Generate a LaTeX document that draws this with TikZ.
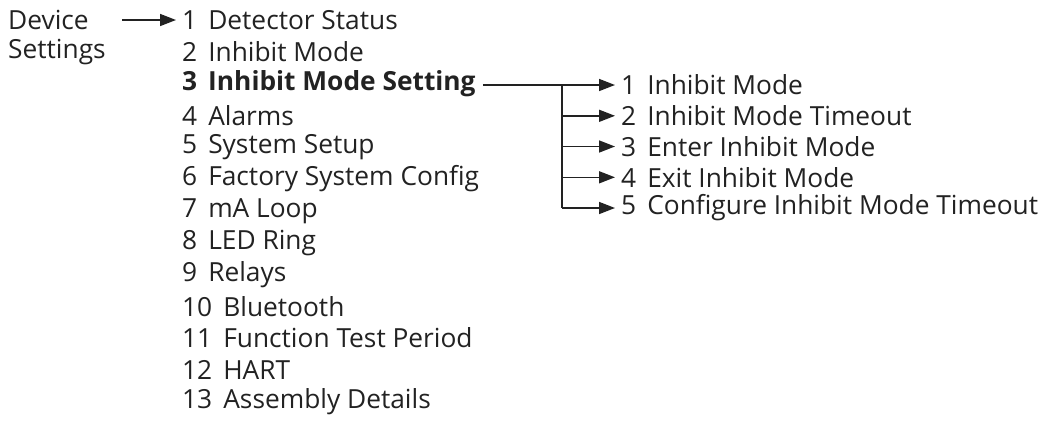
\documentclass[tikz,border=0pt]{standalone}
\usepackage{fontspec}
\setmainfont{Open Sans}
\usetikzlibrary{arrows.meta}
\definecolor{ink}{HTML}{222222}
\begin{document}
\begin{tikzpicture}[x=1pt,y=-1pt,
  lbl/.style={anchor=west,inner xsep=0pt,inner ysep=1pt,text=ink,font=\fontsize{26.3}{28}\selectfont},
  conn/.style={draw=ink,line width=1.6pt,-{Triangle[length=16pt,width=12pt]}},
  plain/.style={draw=ink,line width=1.6pt}]
\useasboundingbox (0,0) rectangle (1048,421);
\def\gap{\hspace{0.42em}}
\node[lbl] (dev) at (8,20) {Device};
\node[lbl] (set) at (8,52) {Settings};
\coordinate (a0) at (122,20);
\node[lbl] (m1) at (182,20) {1\gap Detector Status};
\node[lbl] (m2) at (182,51.8) {2\gap Inhibit Mode};
\node[lbl] (m3) at (182,83.6) {\bfseries 3\gap Inhibit Mode Setting};
\node[lbl] (m4) at (182,115.4) {4\gap Alarms};
\node[lbl] (m5) at (182,147.2) {5\gap System Setup};
\node[lbl] (m6) at (182,179) {6\gap Factory System Config};
\node[lbl] (m7) at (182,210.8) {7\gap mA Loop};
\node[lbl] (m8) at (182,242.6) {8\gap LED Ring};
\node[lbl] (m9) at (182,274.4) {9\gap Relays};
\node[lbl] (m10) at (182,306.2) {10\gap Bluetooth};
\node[lbl] (m11) at (182,338) {11\gap Function Test Period};
\node[lbl] (m12) at (182,369.8) {12\gap HART};
\node[lbl] (m13) at (182,401.6) {13\gap Assembly Details};
\node[lbl] (s1) at (621,85) {1\gap Inhibit Mode};
\node[lbl] (s2) at (621,115.8) {2\gap Inhibit Mode Timeout};
\node[lbl] (s3) at (621,146.5) {3\gap Enter Inhibit Mode};
\node[lbl] (s4) at (621,177.3) {4\gap Exit Inhibit Mode};
\node[lbl] (s5) at (621,208) {5\gap Configure Inhibit Mode Timeout};
\coordinate (br) at (562,85);
\coordinate (bb) at (562,208);
\draw[conn,shorten >=6pt] (a0) -- (m1.west);
\draw[plain,shorten <=7pt] (m3.east|-br) -- (br);
\draw[conn,shorten >=6pt] (br) -- (s1.west);
\draw[plain] (br) -- (bb);
\draw[conn,shorten >=6pt] (br|-s2.west) -- (s2.west);
\draw[conn,shorten >=6pt] (br|-s3.west) -- (s3.west);
\draw[conn,shorten >=6pt] (br|-s4.west) -- (s4.west);
\draw[conn,shorten >=6pt] (bb) -- (s5.west);
\end{tikzpicture}
\end{document}
